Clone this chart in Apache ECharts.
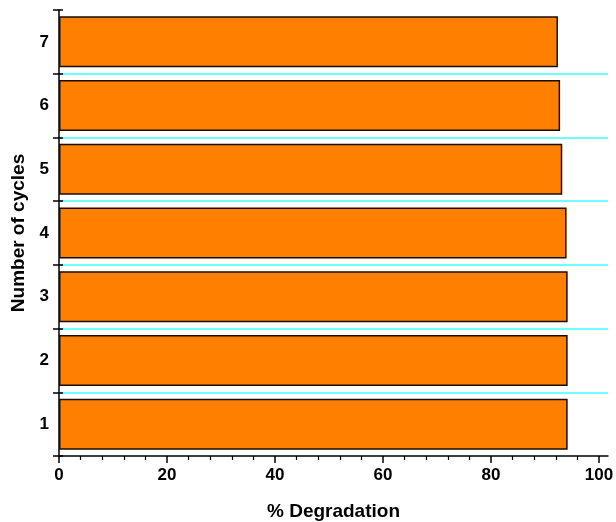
<!DOCTYPE html>
<html>
<head>
<meta charset="utf-8">
<script src="https://cdn.jsdelivr.net/npm/echarts@6/dist/echarts.min.js"></script>
<style>html,body{margin:0;padding:0;background:#fff}#c{width:616px;height:522px}</style>
</head>
<body>
<div id="c"></div>
<script>
const categories = ['1','2','3','4','5','6','7'];
const degradation = [94.2, 94.2, 94.2, 94.0, 93.2, 92.8, 92.4];
const majorTicks = [0, 20, 40, 60, 80, 100];
const minorTicks = [4,8,12,16,24,28,32,36,44,48,52,56,64,68,72,76,84,88,92,96];
const xTitle = '% Degradation';
const yTitle = 'Number of cycles';

const font = 'Liberation Sans, Arial, sans-serif';
const chart = echarts.init(document.getElementById('c'), null, {renderer: 'canvas'});
const xMax = 101.67;
chart.setOption({
  animation: false,
  backgroundColor: '#fff',
  grid: {left: 59, right: 8, top: 10, bottom: 66, containLabel: false, outerBoundsMode: 'none'},
  xAxis: [
    {
      type: 'value', min: 0, max: xMax, position: 'bottom',
      axisLine: {show: true, lineStyle: {color: '#000', width: 1.5}},
      axisTick: {show: true, customValues: majorTicks, length: 7, lineStyle: {color: '#000', width: 1.5}},
      axisLabel: {customValues: majorTicks, color: '#000', fontFamily: font, fontWeight: 'bold', fontSize: 17, margin: 11},
      splitLine: {show: false},
      name: xTitle, nameLocation: 'middle', nameGap: 46,
      nameTextStyle: {color: '#000', fontFamily: font, fontWeight: 'bold', fontSize: 19}
    },
    {
      type: 'value', min: 0, max: xMax, position: 'bottom',
      axisLine: {show: false},
      axisTick: {show: true, customValues: minorTicks, length: 4, lineStyle: {color: '#000', width: 1.2}},
      axisLabel: {show: false},
      splitLine: {show: false}
    }
  ],
  yAxis: [
    {
      type: 'category', data: categories, position: 'left',
      axisLine: {show: true, lineStyle: {color: '#000', width: 1.5}},
      axisTick: {show: true, length: 6, lineStyle: {color: '#000', width: 1.5}},
      axisLabel: {color: '#000', fontFamily: font, fontWeight: 'bold', fontSize: 17, margin: 10},
      splitLine: {show: true, showMinLine: false, showMaxLine: false, lineStyle: {color: '#40ffff', width: 1.5}},
      name: yTitle, nameLocation: 'middle', nameGap: 31, nameRotate: 90,
      nameTextStyle: {color: '#000', fontFamily: font, fontWeight: 'bold', fontSize: 19}
    },
    {
      type: 'category', data: categories, position: 'left',
      axisLine: {show: false},
      axisTick: {show: true, inside: true, length: 4, lineStyle: {color: '#000', width: 1.5}},
      axisLabel: {show: false}, splitLine: {show: false}
    },
    {
      type: 'category', data: categories, position: 'left',
      axisLine: {show: false},
      axisTick: {show: true, inside: true, alignWithLabel: true, length: 3, lineStyle: {color: '#000', width: 1.2}},
      axisLabel: {show: false}, splitLine: {show: false}
    }
  ],
  series: [{
    type: 'bar', xAxisIndex: 0, yAxisIndex: 0,
    data: degradation,
    barCategoryGap: '20%',
    itemStyle: {color: '#ff8000', borderColor: '#1a0d00', borderWidth: 1.5}
  }]
});
</script>
</body>
</html>
